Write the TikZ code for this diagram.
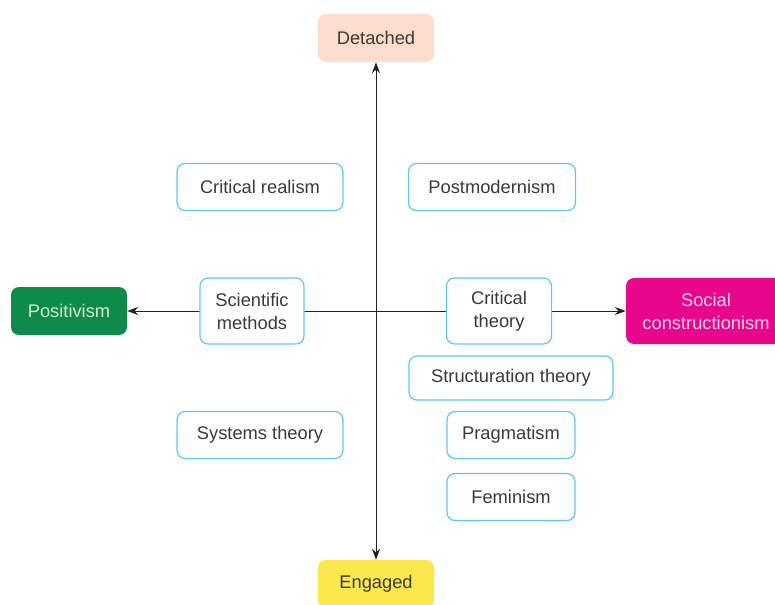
\documentclass[tikz,border=0pt]{standalone}
\usepackage{fontspec}
\setmainfont{Liberation Sans}
\usetikzlibrary{arrows.meta,positioning,calc}
\definecolor{Ink}{HTML}{222222}
\definecolor{TextGrey}{HTML}{3A3A3A}
\definecolor{BoxEdge}{HTML}{5BC8F0}
\definecolor{PeachFill}{HTML}{FCDCCB}
\definecolor{SunFill}{HTML}{FCE84C}
\definecolor{LeafFill}{HTML}{0E8A4B}
\definecolor{LeafText}{HTML}{D2EED0}
\definecolor{PinkFill}{HTML}{E8078C}
\definecolor{PinkText}{HTML}{FBD0E8}
\tikzset{
  theory/.style={draw=BoxEdge,fill=white,line width=1.2pt,rounded corners=8pt,
    text=TextGrey,align=center,font=\fontsize{18.3}{23}\selectfont},
  pole/.style={rounded corners=8pt,align=center,font=\fontsize{18.3}{23}\selectfont},
  axis/.style={Ink,line width=1pt,{Stealth[length=11pt,width=8pt]}-{Stealth[length=11pt,width=8pt]}}
}
\begin{document}
\begin{tikzpicture}[x=1pt,y=-1pt]
\useasboundingbox (0,0) rectangle (775,604);
\clip (0,0) rectangle (775,604);
% the four poles
\node[pole,fill=PeachFill,text=TextGrey,minimum width=116pt,minimum height=48pt] (detached) at (376,38) {Detached};
\node[pole,fill=SunFill,text=TextGrey,minimum width=116pt,minimum height=48pt] (engaged) at (376,584) {Engaged};
\node[pole,fill=LeafFill,text=LeafText,minimum width=116pt,minimum height=48pt] (positivism) at (69,311) {Positivism};
\node[pole,fill=PinkFill,text=PinkText,minimum width=160pt,minimum height=66pt] (social) at (706,311) {Social\\constructionism};
% axes
\draw[axis] (positivism.east) -- (social.west);
\draw[axis] (detached.south) -- (engaged.north);
% theories
\node[theory,minimum width=166pt,minimum height=47pt] (realism) at (260,187) {Critical realism};
\node[theory,minimum width=167pt,minimum height=47pt] (postmod) at (492,187) {Postmodernism};
\node[theory,minimum width=104pt,minimum height=66pt] (scimeth) at (252,311) {Scientific\\methods};
\node[theory,minimum width=105pt,minimum height=66pt] (crittheory) at (499,311) {Critical\\theory};
\node[theory,minimum width=204pt,minimum height=44pt] (structuration) at (511,378) {Structuration theory};
\node[theory,minimum width=166pt,minimum height=47pt] (systems) at (260,435) {Systems theory};
\node[theory,minimum width=128pt,minimum height=47pt] (pragmatism) at (511,435) {Pragmatism};
\node[theory,minimum width=128pt,minimum height=47pt] (feminism) at (511,497) {Feminism};
\end{tikzpicture}
\end{document}
